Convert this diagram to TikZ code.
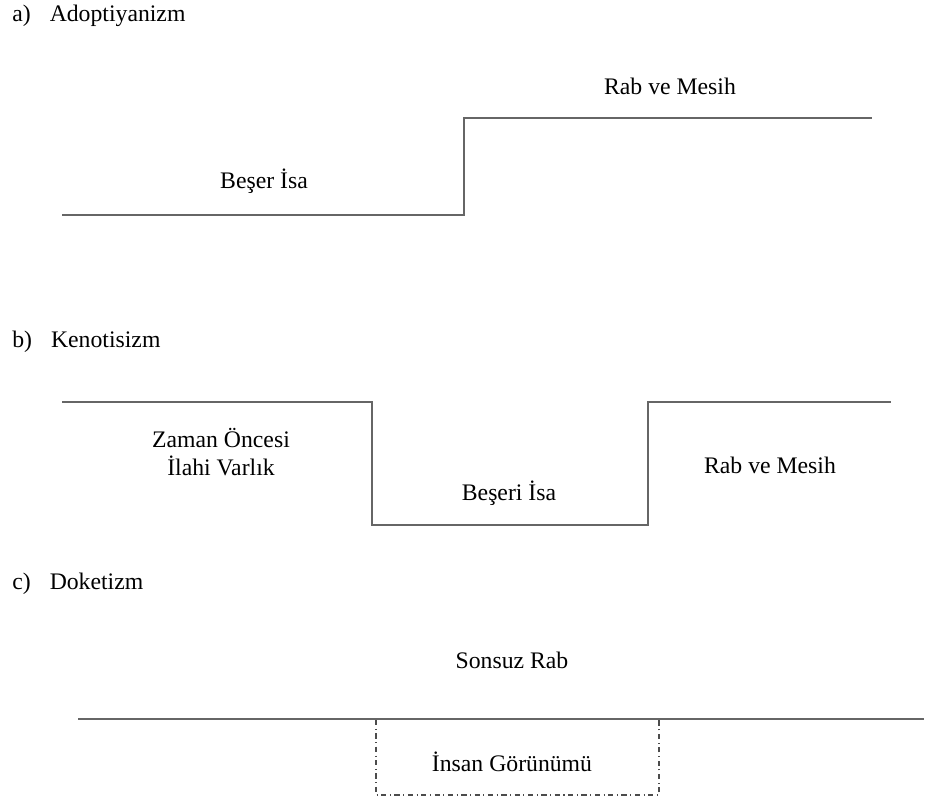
\documentclass[tikz,border=0pt]{standalone}
\usepackage{fontspec}
\setmainfont{Liberation Serif}
\usetikzlibrary{positioning}

\tikzset{
  lvl/.style={black!60,line width=0.85pt},
  lbl/.style={font=\fontsize{13.5}{15.5}\selectfont,align=center,inner sep=0pt},
  hdr/.style={font=\fontsize{13.5}{15.5}\selectfont,anchor=west,inner sep=0pt}
}

\begin{document}
\begin{tikzpicture}[x=0.02cm,y=-0.02cm]
\useasboundingbox (0,0) rectangle (925,798);

% a) Adoptiyanizm
\node[hdr] (ha) at (12,16) {a)\hspace{0.8em}Adoptiyanizm};
\coordinate (a1) at (62,215);
\coordinate (a2) at (464,215);
\coordinate (a3) at (464,118);
\coordinate (a4) at (872,118);
\draw[lvl] (a1) -- (a2) -- (a3) -- (a4);
\node[lbl] (beser) at (264,181) {Beşer İsa};
\node[lbl] (raba) at (670,86) {Rab ve Mesih};

% b) Kenotisizm
\node[hdr] (hb) at (12,342) {b)\hspace{0.8em}Kenotisizm};
\coordinate (b1) at (62,402);
\coordinate (b2) at (372,402);
\coordinate (b3) at (372,525);
\coordinate (b4) at (648,525);
\coordinate (b5) at (648,402);
\coordinate (b6) at (891,402);
\draw[lvl] (b1) -- (b2) -- (b3) -- (b4) -- (b5) -- (b6);
\node[lbl] (zaman) at (221,452) {Zaman Öncesi\\İlahi Varlık};
\node[lbl] (beseri) at (509,493) {Beşeri İsa};
\node[lbl] (rabb) at (770,465) {Rab ve Mesih};

% c) Doketizm
\node[hdr] (hc) at (12,584) {c)\hspace{0.8em}Doketizm};
\node[lbl] (sonsuz) at (512,660) {Sonsuz Rab};
\coordinate (c1) at (78,719);
\coordinate (c2) at (924,719);
\draw[lvl] (c1) -- (c2);
\coordinate (d1) at (376,720);
\coordinate (d2) at (376,795);
\coordinate (d3) at (659,795);
\coordinate (d4) at (659,720);
\draw[black!70,line width=0.6pt,dash dot] (d1) -- (d2) -- (d3) -- (d4);
\node[lbl] (insan) at (512,762) {İnsan Görünümü};

\end{tikzpicture}
\end{document}
